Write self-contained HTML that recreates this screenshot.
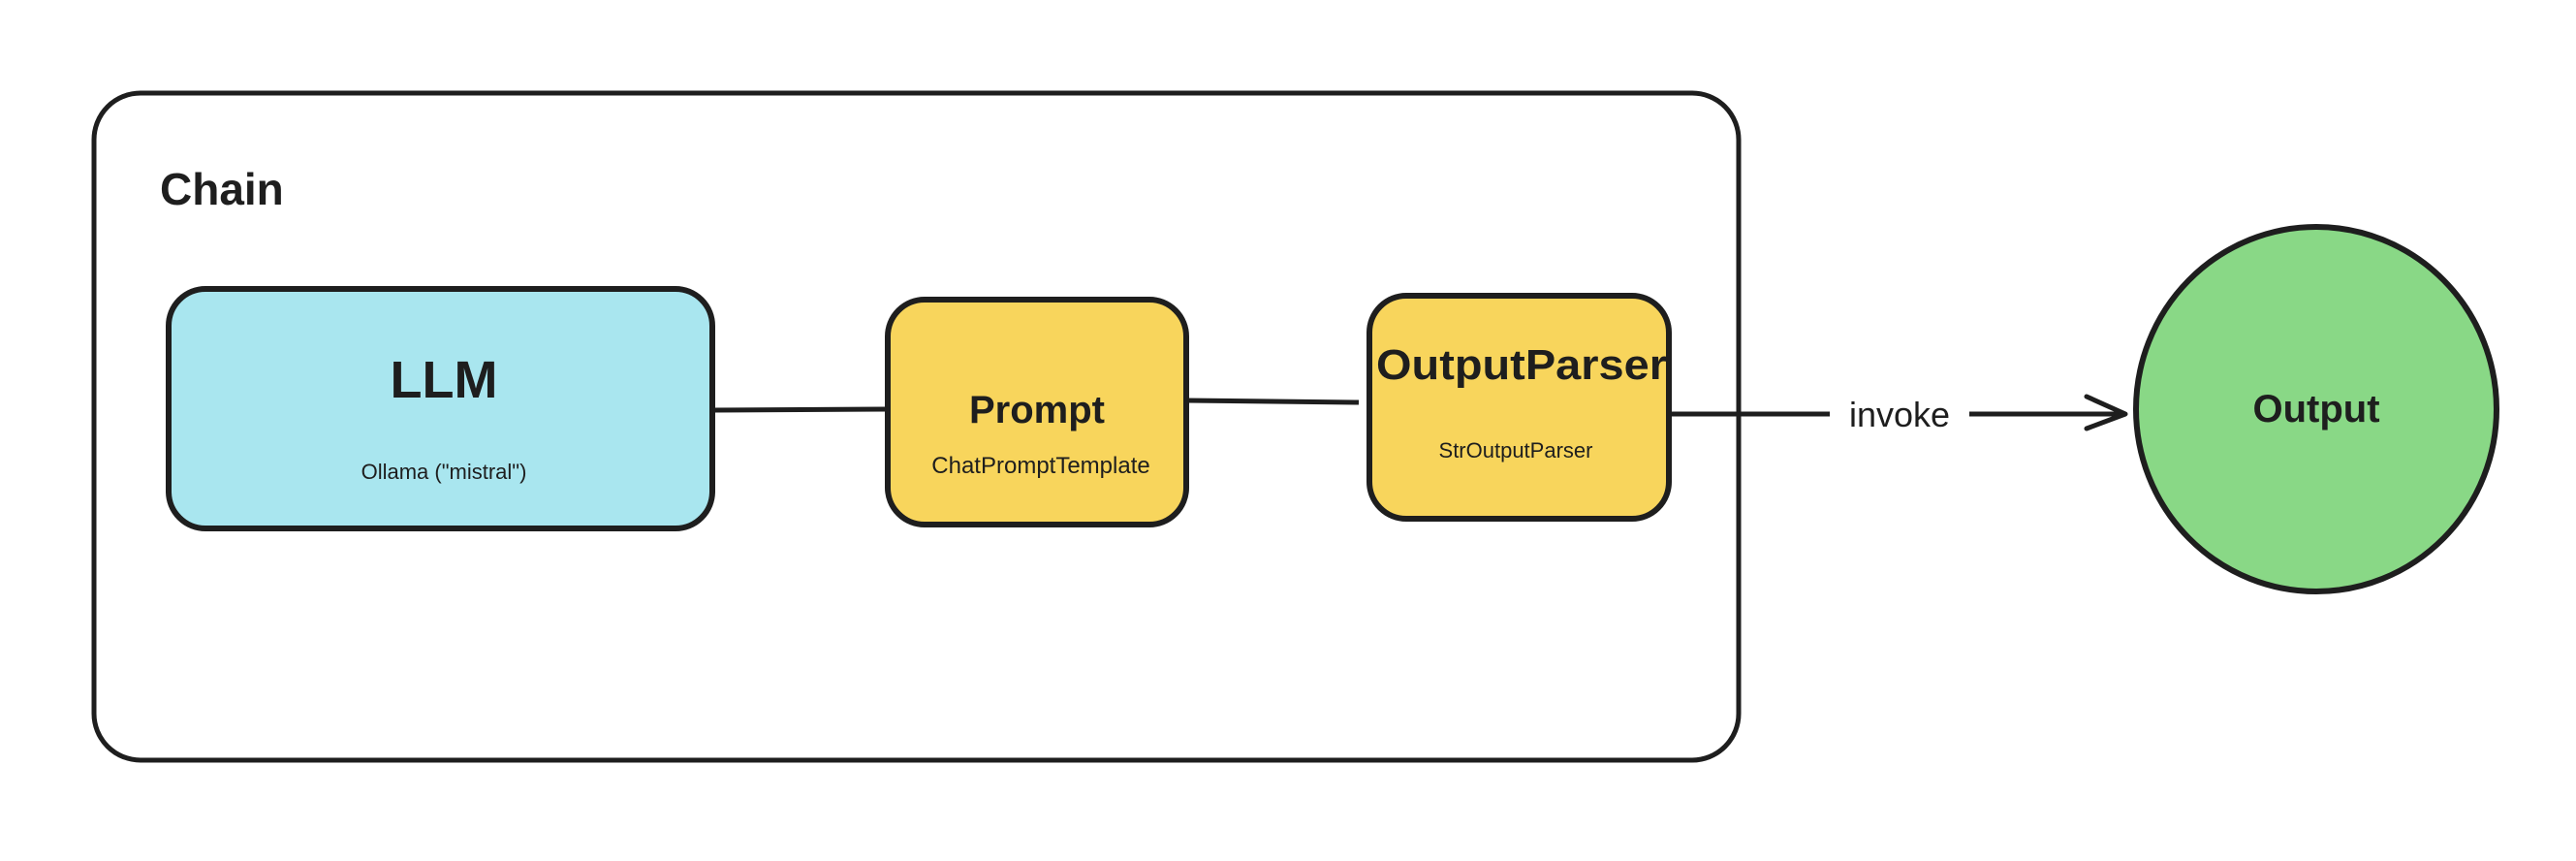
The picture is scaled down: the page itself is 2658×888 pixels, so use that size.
<!DOCTYPE html>
<html><head><meta charset="utf-8"><style>
html,body{margin:0;padding:0;background:#fff;}
svg{display:block}
text{font-family:"Liberation Sans",sans-serif;fill:#1e1e1e;}
</style></head><body>
<svg width="2658" height="888" viewBox="0 0 2658 888" xmlns="http://www.w3.org/2000/svg">
<rect x="0" y="0" width="2658" height="888" fill="#fff"/>
<rect x="97" y="96" width="1697" height="688" rx="48" fill="none" stroke="#1e1e1e" stroke-width="5"/>
<text x="165" y="211" font-size="46" font-weight="bold">Chain</text>

<line x1="736" y1="423" x2="916" y2="422" stroke="#1e1e1e" stroke-width="5"/>
<line x1="1224" y1="413" x2="1402" y2="415" stroke="#1e1e1e" stroke-width="5"/>

<rect x="174" y="298" width="561" height="247" rx="38" fill="#a9e6ef" stroke="#1e1e1e" stroke-width="6"/>
<text x="458" y="410" font-size="54" font-weight="bold" text-anchor="middle">LLM</text>
<text x="458" y="494" font-size="22" text-anchor="middle">Ollama ("mistral")</text>

<rect x="916" y="309" width="308" height="232" rx="38" fill="#f8d55c" stroke="#1e1e1e" stroke-width="6"/>
<text x="1070" y="436" font-size="40" font-weight="bold" text-anchor="middle">Prompt</text>
<text x="1074" y="488" font-size="24" text-anchor="middle">ChatPromptTemplate</text>

<rect x="1413" y="305" width="309" height="230" rx="38" fill="#f8d55c" stroke="#1e1e1e" stroke-width="6"/>
<text x="1570" y="391" font-size="44" font-weight="bold" text-anchor="middle" textLength="300" lengthAdjust="spacingAndGlyphs">OutputParser</text>
<text x="1564" y="472" font-size="22" text-anchor="middle">StrOutputParser</text>

<line x1="1722" y1="427" x2="1888" y2="427" stroke="#1e1e1e" stroke-width="5"/>
<line x1="2032" y1="427" x2="2193" y2="427" stroke="#1e1e1e" stroke-width="5"/>
<polyline points="2153,409 2193,427 2153,442" fill="none" stroke="#1e1e1e" stroke-width="5" stroke-linecap="round" stroke-linejoin="round"/>
<text x="1960" y="440" font-size="36" text-anchor="middle">invoke</text>

<ellipse cx="2390" cy="422" rx="186" ry="188" fill="#89d886" stroke="#1e1e1e" stroke-width="6"/>
<text x="2390" y="435" font-size="40" font-weight="bold" text-anchor="middle">Output</text>
</svg>
</body></html>
